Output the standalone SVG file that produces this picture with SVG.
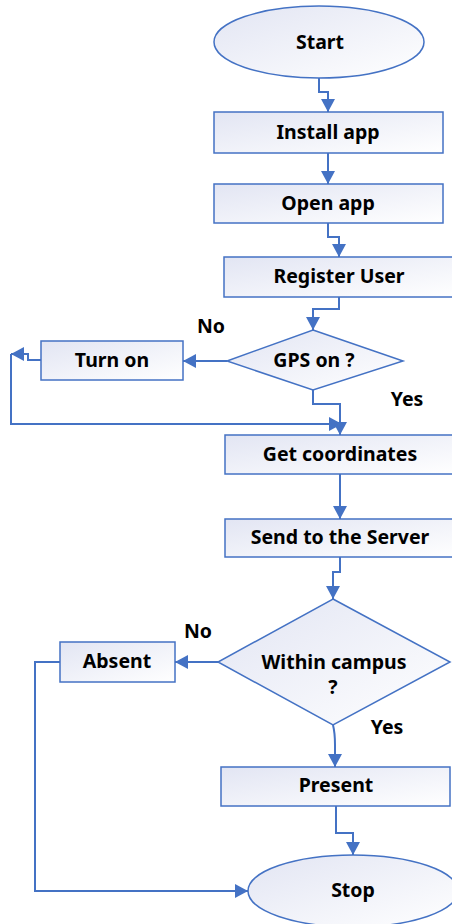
<svg xmlns="http://www.w3.org/2000/svg" width="452" height="924" viewBox="0 0 452 924">
<defs>
<linearGradient id="g" x1="0" y1="0" x2="1" y2="1">
<stop offset="0" stop-color="#e2e5f3"/>
<stop offset="1" stop-color="#ffffff"/>
</linearGradient>
<marker id="ah" markerUnits="userSpaceOnUse" markerWidth="14" markerHeight="14" refX="13" refY="7" orient="auto">
<path d="M0,0 L13,7 L0,14 z" fill="#4472c4"/>
</marker>
</defs>
<style>
.n{fill:url(#g);stroke:#4472c4;stroke-width:1.5}
.c{fill:none;stroke:#4472c4;stroke-width:2}
.a{marker-end:url(#ah)}
text{font-family:"Noto Sans","DejaVu Sans",sans-serif;font-weight:bold;font-size:19.5px;fill:#000;text-anchor:middle}
</style>
<rect width="452" height="924" fill="#fff"/>
<g id="connectors">
<path class="c a" d="M319,78 V92 H328 V112"/>
<path class="c a" d="M328,153 V184"/>
<path class="c a" d="M328,223 V237 H339 V257"/>
<path class="c a" d="M339,297 V309 H313 V330"/>
<path class="c a" d="M227,361 H183"/>
<path class="c a" d="M41,360 H28 V354 H11"/>
<path class="c a" d="M11,354 V424 H342"/>
<path class="c a" d="M313,390 V404 H340 V435"/>
<path class="c a" d="M340,474 V519"/>
<path class="c a" d="M340,557 V572 H333 V599"/>
<path class="c a" d="M218,662 H175"/>
<path class="c a" d="M60,662 H35 V891 H248"/>
<path class="c a" d="M333,725 Q335,733 335,745 V767"/>
<path class="c a" d="M336,806 V833 H353 V855"/>
</g>
<g id="start"><ellipse class="n" cx="319" cy="42" rx="105" ry="36"/><text x="320" y="49">Start</text></g>
<g id="install"><rect class="n" x="214" y="112" width="229" height="41"/><text x="328" y="139">Install app</text></g>
<g id="open"><rect class="n" x="214" y="184" width="229" height="39"/><text x="328" y="210">Open app</text></g>
<g id="register"><rect class="n" x="224" y="257" width="231" height="40"/><text x="339" y="283">Register User</text></g>
<g id="gps"><polygon class="n" points="313,330 403,361 313,390 227,361"/><text x="314" y="367">GPS on ?</text></g>
<g id="turnon"><rect class="n" x="41" y="341" width="142" height="39"/><text x="112" y="367">Turn on</text></g>
<g id="getcoords"><rect class="n" x="225" y="435" width="231" height="39"/><text x="340" y="461">Get coordinates</text></g>
<g id="send"><rect class="n" x="225" y="519" width="231" height="38"/><text x="340" y="544">Send to the Server</text></g>
<g id="within"><polygon class="n" points="333,599 450,662 333,725 218,662"/><text x="334" y="669">Within campus</text><text x="333" y="694">?</text></g>
<g id="absent"><rect class="n" x="60" y="642" width="115" height="40"/><text x="117" y="668">Absent</text></g>
<g id="present"><rect class="n" x="221" y="767" width="229" height="39"/><text x="336" y="792">Present</text></g>
<g id="stop"><ellipse class="n" cx="353" cy="891" rx="105" ry="36"/><text x="353" y="897">Stop</text></g>
<g id="labels">
<text x="211" y="333">No</text>
<text x="407" y="406">Yes</text>
<text x="198" y="638">No</text>
<text x="387" y="734">Yes</text>
</g>
</svg>
